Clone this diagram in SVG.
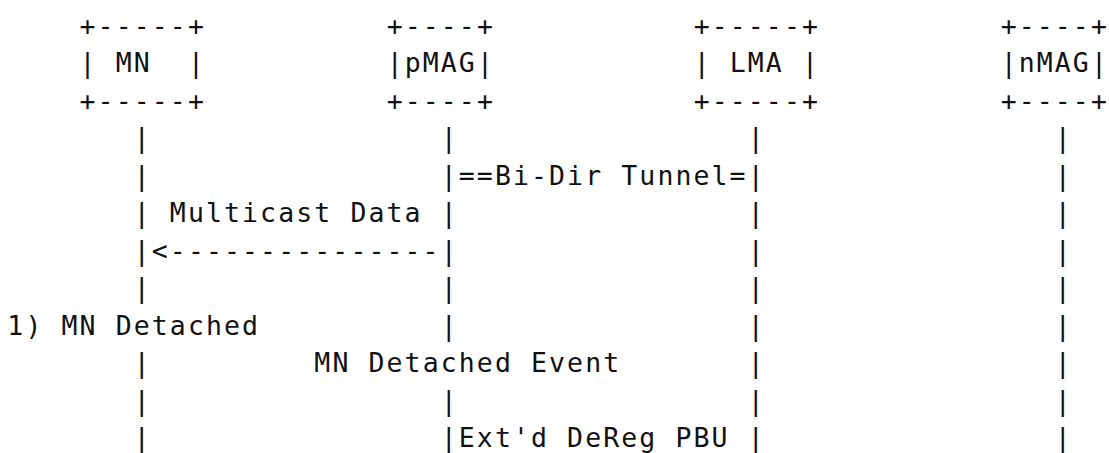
<svg xmlns="http://www.w3.org/2000/svg" width="1109" height="453" viewBox="0 0 1109 453">
<style>
text{font-family:"DejaVu Sans Mono","Liberation Mono",monospace;font-size:26.5px;letter-spacing:2.1px;fill:#111;white-space:pre}
</style>
<rect width="1109" height="453" fill="#fff"/>
<g transform="translate(1.05,0)">
<g id="node-mn">
<text x="78.5" y="34.5">+-----+</text>
<text x="78.5" y="72">|</text><text x="114.7" y="72">MN</text><text x="186.9" y="72">|</text>
<text x="78.5" y="109.5">+-----+</text>
</g>
<g id="node-pmag">
<text x="385.6" y="34.5">+----+</text>
<text x="385.6" y="72">|pMAG|</text>
<text x="385.6" y="109.5">+----+</text>
</g>
<g id="node-lma">
<text x="692.6" y="34.5">+-----+</text>
<text x="692.6" y="72">|</text><text x="728.7" y="72">LMA</text><text x="800.9" y="72">|</text>
<text x="692.6" y="109.5">+-----+</text>
</g>
<g id="node-nmag">
<text x="999.6" y="34.5">+----+</text>
<text x="999.6" y="72">|nMAG|</text>
<text x="999.6" y="109.5">+----+</text>
</g>
<g id="connectors">
<text x="132.7" y="147">|</text><text x="439.7" y="147">|</text><text x="746.8" y="147">|</text><text x="1053.8" y="147">|</text>
<text x="132.7" y="184.5">|</text><text x="439.7" y="184.5">|==Bi-Dir Tunnel=|</text><text x="1053.8" y="184.5">|</text>
<text x="132.7" y="222">|</text><text x="168.8" y="222">Multicast Data</text><text x="439.7" y="222">|</text><text x="746.8" y="222">|</text><text x="1053.8" y="222">|</text>
<text x="132.7" y="259.5">|&lt;---------------|</text><text x="746.8" y="259.5">|</text><text x="1053.8" y="259.5">|</text>
<text x="132.7" y="297">|</text><text x="439.7" y="297">|</text><text x="746.8" y="297">|</text><text x="1053.8" y="297">|</text>
<text x="6.3" y="334.5">1) MN Detached</text><text x="439.7" y="334.5">|</text><text x="746.8" y="334.5">|</text><text x="1053.8" y="334.5">|</text>
<text x="132.7" y="372">|</text><text x="313.3" y="372">MN Detached Event</text><text x="746.8" y="372">|</text><text x="1053.8" y="372">|</text>
<text x="132.7" y="409.5">|</text><text x="439.7" y="409.5">|</text><text x="746.8" y="409.5">|</text><text x="1053.8" y="409.5">|</text>
<text x="132.7" y="447">|</text><text x="439.7" y="447">|Ext'd DeReg PBU</text><text x="746.8" y="447">|</text><text x="1053.8" y="447">|</text>
</g>
</g>
</svg>
